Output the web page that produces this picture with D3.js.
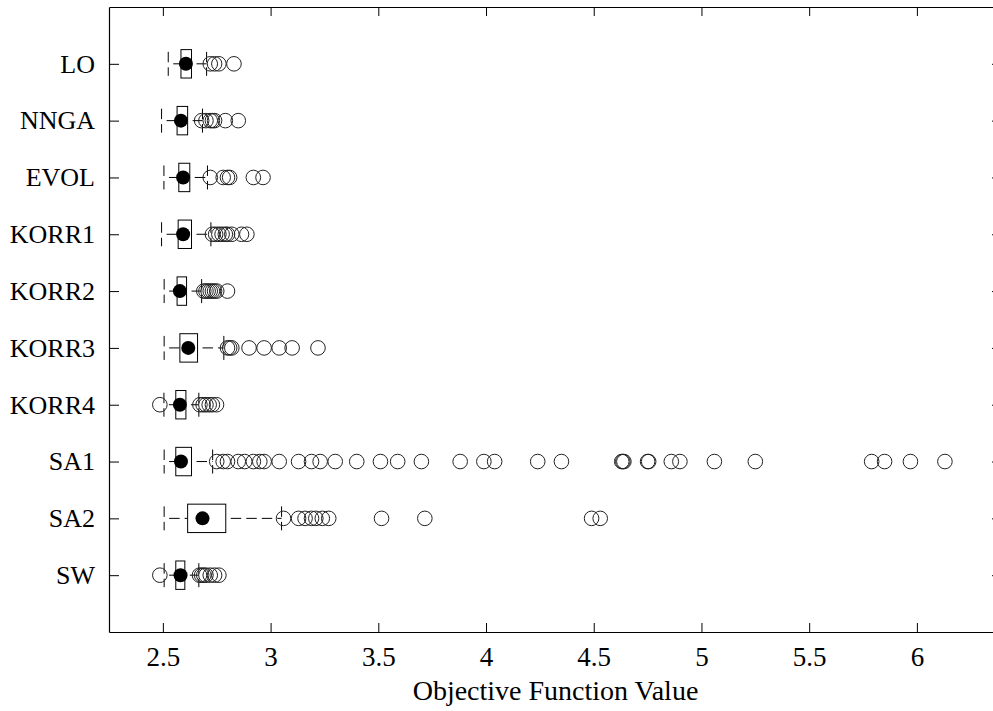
<!DOCTYPE html>
<html>
<head>
<meta charset="utf-8">
<script src="https://cdn.jsdelivr.net/npm/d3@7"></script>
<style>
  html, body { margin: 0; padding: 0; background: #fff; }
  svg { display: block; }
</style>
</head>
<body>
<script>
// ---- data ----
const categories = ["LO","NNGA","EVOL","KORR1","KORR2","KORR3","KORR4","SA1","SA2","SW"];
const lowerWhisker = [2.525, 2.494, 2.505, 2.494, 2.506, 2.506, 2.505, 2.506, 2.506, 2.506];
const q1Values     = [2.584, 2.566, 2.574, 2.571, 2.566, 2.579, 2.560, 2.560, 2.615, 2.560];
const medianValues = [2.607, 2.584, 2.594, 2.594, 2.579, 2.618, 2.579, 2.584, 2.684, 2.582];
const q3Values     = [2.633, 2.615, 2.625, 2.633, 2.610, 2.661, 2.607, 2.633, 2.792, 2.602];
const upperWhisker = [2.703, 2.684, 2.707, 2.723, 2.680, 2.783, 2.667, 2.731, 3.051, 2.667];
const outliersLO    = [2.72, 2.74, 2.76, 2.83];
const outliersNNGA  = [2.68, 2.70, 2.72, 2.73, 2.74, 2.79, 2.85];
const outliersEVOL  = [2.72, 2.78, 2.80, 2.81, 2.92, 2.965];
const outliersKORR1 = [2.73, 2.745, 2.76, 2.775, 2.79, 2.80, 2.82, 2.865, 2.89];
const outliersKORR2 = [2.69, 2.70, 2.71, 2.72, 2.73, 2.74, 2.75, 2.80];
const outliersKORR3 = [2.80, 2.81, 2.82, 2.90, 2.97, 3.04, 3.10, 3.22];
const outliersKORR4 = [2.486, 2.672, 2.687, 2.70, 2.715, 2.73, 2.749];
const outliersSA1   = [2.75, 2.78, 2.80, 2.85, 2.88, 2.92, 2.95, 2.97, 3.04, 3.13, 3.19, 3.23,
                       3.30, 3.40, 3.51, 3.59, 3.70, 3.88, 3.99, 4.04, 4.24, 4.35, 4.63, 4.635,
                       4.64, 4.75, 4.755, 4.86, 4.90, 5.06, 5.25, 5.79, 5.85, 5.97, 6.13];
const outliersSA2   = [3.06, 3.13, 3.16, 3.19, 3.21, 3.24, 3.27, 3.515, 3.716, 4.49, 4.53];
const outliersSW    = [2.486, 2.67, 2.68, 2.69, 2.70, 2.72, 2.74, 2.76];
const outlierLists = [outliersLO, outliersNNGA, outliersEVOL, outliersKORR1, outliersKORR2,
                      outliersKORR3, outliersKORR4, outliersSA1, outliersSA2, outliersSW];
const xTicks = [2.5, 3, 3.5, 4, 4.5, 5, 5.5, 6];
const xTitle = "Objective Function Value";

// ---- layout ----
const W = 993, H = 711;
const pL = 109, pR = 1002, pT = 7, pB = 632;
const FONT = "'Liberation Serif', 'Times New Roman', serif";

const svg = d3.select("body").append("svg").attr("width", W).attr("height", H);

const x = d3.scaleLinear().domain([2.25, 6.395]).range([pL, pR]);
const y = d3.scaleLinear().domain([0, categories.length + 1]).range([pT, pB]);
const band = y(1) - y(0);
const boxHalf = band * 0.25;
const capHalf = 12;

const rows = categories.map((c, i) => ({
  name: c, pos: i + 1,
  lo: lowerWhisker[i], q1: q1Values[i], med: medianValues[i], q3: q3Values[i], hi: upperWhisker[i],
  out: outlierLists[i]
}));

const g = svg.append("g");
const dash = "10.5,5";

// whiskers (drawn left to right, starting with a gap)
g.selectAll("line.wlo").data(rows).join("line")
  .attr("x1", d => x(d.lo)).attr("x2", d => x(d.q1))
  .attr("y1", d => y(d.pos)).attr("y2", d => y(d.pos))
  .attr("stroke", "#000").attr("stroke-width", 1)
  .attr("stroke-dasharray", dash).attr("stroke-dashoffset", 10.5);
g.selectAll("line.whi").data(rows).join("line")
  .attr("x1", d => x(d.q3)).attr("x2", d => x(d.hi))
  .attr("y1", d => y(d.pos)).attr("y2", d => y(d.pos))
  .attr("stroke", "#000").attr("stroke-width", 1)
  .attr("stroke-dasharray", dash).attr("stroke-dashoffset", 10.5);

// caps
["lo", "hi"].forEach(k => {
  g.selectAll("line.cap" + k).data(rows).join("line")
    .attr("x1", d => x(d[k])).attr("x2", d => x(d[k]))
    .attr("y1", d => y(d.pos) - capHalf).attr("y2", d => y(d.pos) + capHalf)
    .attr("stroke", "#000").attr("stroke-width", 1)
    .attr("stroke-dasharray", dash);
});

// boxes
g.selectAll("rect.box").data(rows).join("rect")
  .attr("x", d => x(d.q1)).attr("width", d => x(d.q3) - x(d.q1))
  .attr("y", d => y(d.pos) - boxHalf).attr("height", 2 * boxHalf)
  .attr("fill", "#fff").attr("stroke", "#000").attr("stroke-width", 1);

// outliers
rows.forEach(r => {
  g.append("g").selectAll("circle").data(r.out).join("circle")
    .attr("cx", v => x(v)).attr("cy", y(r.pos)).attr("r", 7.3)
    .attr("fill", "none").attr("stroke", "#222").attr("stroke-width", 1);
});

// medians
g.append("g").selectAll("circle").data(rows).join("circle")
  .attr("cx", d => x(d.med)).attr("cy", d => y(d.pos)).attr("r", 7)
  .attr("fill", "#000");

// ---- axes ----
const ax = svg.append("g").attr("font-family", FONT);

const bAx = ax.append("g").attr("transform", `translate(0,${pB})`)
  .call(d3.axisBottom(x).tickValues(xTicks).tickFormat(d3.format("")).tickSizeInner(-9).tickSizeOuter(0).tickPadding(15));
const tAx = ax.append("g").attr("transform", `translate(0,${pT})`)
  .call(d3.axisTop(x).tickValues(xTicks).tickFormat("").tickSizeInner(-9).tickSizeOuter(0));
const lAx = ax.append("g").attr("transform", `translate(${pL},0)`)
  .call(d3.axisLeft(y).tickValues(rows.map(r => r.pos)).tickFormat((d, i) => categories[i]).tickSizeInner(-10).tickSizeOuter(0).tickPadding(14));
const rAx = ax.append("g").attr("transform", `translate(${pR},0)`)
  .call(d3.axisRight(y).tickValues(rows.map(r => r.pos)).tickFormat("").tickSizeInner(-10).tickSizeOuter(0));

[bAx, tAx, lAx, rAx].forEach(a => {
  a.select(".domain").attr("stroke", "#000").attr("stroke-width", 1.2);
  a.selectAll(".tick line").attr("stroke", "#000").attr("stroke-width", 1);
  a.selectAll("text").attr("fill", "#000").attr("font-family", FONT).attr("font-size", 27);
});
lAx.selectAll("text").attr("font-size", 26);

svg.append("text")
  .attr("x", (pL + pR) / 2).attr("y", 700)
  .attr("text-anchor", "middle")
  .attr("font-family", FONT).attr("font-size", 28).attr("fill", "#000")
  .text(xTitle);
</script>
</body>
</html>
